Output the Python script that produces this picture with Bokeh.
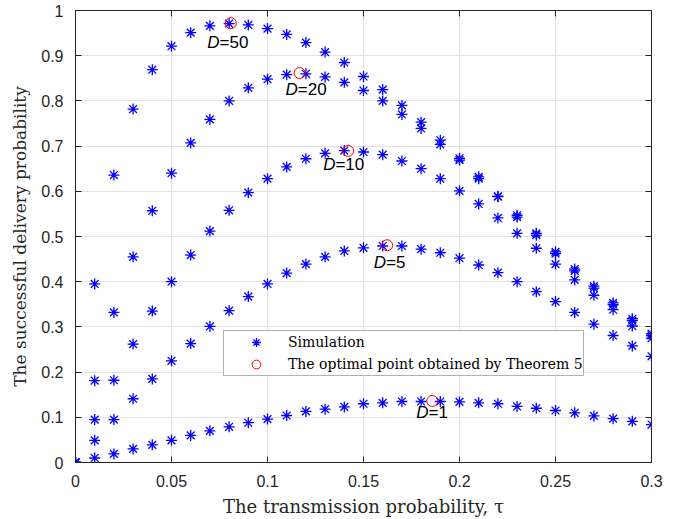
import math
from bokeh.plotting import figure
from bokeh.models import (ColumnDataSource, LinearAxis, Legend, LegendItem,
                          FixedTicker, Range1d)
from bokeh.core.properties import value
from bokeh.embed import file_html
from bokeh.resources import INLINE

# ---------------- data ----------------
tau = [0.00, 0.01, 0.02, 0.03, 0.04, 0.05, 0.06, 0.07, 0.08, 0.09, 0.10,
       0.11, 0.12, 0.13, 0.14, 0.15, 0.16, 0.17, 0.18, 0.19, 0.20,
       0.21, 0.22, 0.23, 0.24, 0.25, 0.26, 0.27, 0.28, 0.29, 0.30]

sim_D1 = [0.0, 0.010, 0.019, 0.030, 0.039, 0.049, 0.060, 0.070, 0.079, 0.088, 0.096,
          0.104, 0.113, 0.118, 0.123, 0.130, 0.132, 0.135, 0.135, 0.135, 0.134,
          0.132, 0.130, 0.124, 0.120, 0.115, 0.110, 0.103, 0.097, 0.091, 0.084]
sim_D5 = [0.0, 0.049, 0.095, 0.141, 0.185, 0.225, 0.263, 0.301, 0.336, 0.367, 0.395,
          0.419, 0.439, 0.455, 0.468, 0.475, 0.479, 0.479, 0.472, 0.464, 0.452,
          0.437, 0.420, 0.400, 0.378, 0.356, 0.332, 0.306, 0.281, 0.258, 0.235]
sim_D10 = [0.0, 0.095, 0.182, 0.262, 0.335, 0.400, 0.459, 0.512, 0.558, 0.597, 0.628,
           0.654, 0.672, 0.684, 0.690, 0.687, 0.681, 0.667, 0.650, 0.628, 0.601,
           0.572, 0.541, 0.507, 0.474, 0.439, 0.404, 0.370, 0.338, 0.302, 0.275]
sim_D20 = [0.0, 0.181, 0.332, 0.455, 0.557, 0.640, 0.707, 0.759, 0.800, 0.829, 0.848,
           0.858, 0.860, 0.853, 0.841, 0.823, 0.800, 0.770, 0.739, 0.704, 0.669,
           0.628, 0.588, 0.543, 0.503, 0.462, 0.424, 0.386, 0.349, 0.314, 0.281]
sim_D50 = [0.0, 0.395, 0.636, 0.782, 0.869, 0.921, 0.951, 0.966, 0.971, 0.968, 0.960,
           0.947, 0.929, 0.908, 0.885, 0.854, 0.825, 0.790, 0.753, 0.713, 0.673,
           0.632, 0.589, 0.547, 0.507, 0.466, 0.428, 0.390, 0.353, 0.318, 0.285]

opt_tau = [0.1858, 0.1623, 0.1420, 0.1167, 0.0809]
opt_prob = [0.1362, 0.4806, 0.6894, 0.8616, 0.9720]
opt_D = ["1", "5", "10", "20", "50"]

x_ticks = [0, 0.05, 0.1, 0.15, 0.2, 0.25, 0.3]
x_tick_labels = ["0", "0.05", "0.1", "0.15", "0.2", "0.25", "0.3"]
y_ticks = [0, 0.1, 0.2, 0.3, 0.4, 0.5, 0.6, 0.7, 0.8, 0.9, 1]
y_tick_labels = ["0", "0.1", "0.2", "0.3", "0.4", "0.5", "0.6", "0.7", "0.8", "0.9", "1"]

# ---------------- styles ----------------
AX = "#262626"
BLUE = "#0000ff"
RED = "#ff0000"
SERIF = "DejaVu Serif"
SANS = "Liberation Sans"

p = figure(width=682, height=519, x_range=Range1d(0, 0.3), y_range=Range1d(0, 1),
           output_backend="svg", toolbar_location=None,
           min_border_left=75, min_border_right=31, min_border_top=10, min_border_bottom=56)
p.background_fill_color = "white"
p.border_fill_color = "white"
p.outline_line_color = AX
p.outline_line_width = 1

bottom_ax = p.xaxis[0]
left_ax = p.yaxis[0]

def style_axis(ax, ticks, labels, show_labels=True):
    ax.ticker = FixedTicker(ticks=ticks)
    ax.major_label_overrides = {t: (l if show_labels else "") for t, l in zip(ticks, labels)}
    ax.major_tick_in = 6
    ax.major_tick_out = 0
    ax.minor_tick_line_color = None
    ax.axis_line_color = AX
    ax.major_tick_line_color = AX
    ax.major_label_text_font = SANS
    ax.major_label_text_color = AX
    if show_labels:
        ax.major_label_text_font_size = "16px"
        ax.major_label_standoff = 12
    else:
        ax.major_label_text_font_size = "0px"
        ax.major_label_standoff = 0

style_axis(bottom_ax, x_ticks, x_tick_labels)
style_axis(left_ax, y_ticks, y_tick_labels)

top = LinearAxis()
style_axis(top, x_ticks, x_tick_labels, show_labels=False)
p.add_layout(top, "above")
right = LinearAxis()
style_axis(right, y_ticks, y_tick_labels, show_labels=False)
p.add_layout(right, "right")

bottom_ax.axis_label = "The transmission probability, \u03c4"
left_ax.axis_label = "The successful delivery probability"
for ax, st, fs in ((bottom_ax, 6, "18px"), (left_ax, 8, "17px")):
    ax.axis_label_text_font = SERIF
    ax.axis_label_text_font_size = fs
    ax.axis_label_text_font_style = "normal"
    ax.axis_label_text_color = AX
    ax.axis_label_standoff = st

p.xgrid.ticker = FixedTicker(ticks=x_ticks)
p.ygrid.ticker = FixedTicker(ticks=y_ticks)
p.xgrid.grid_line_color = "#e2e2e2"
p.ygrid.grid_line_color = "#e2e2e2"

# simulation points
sim_renderers = []
for series in [sim_D1, sim_D5, sim_D10, sim_D20, sim_D50]:
    r = p.scatter(tau, series, marker="asterisk", size=11,
                  line_color=BLUE, line_width=1.3)
    sim_renderers.append(r)

# optimal points
r_opt = p.scatter(opt_tau, opt_prob, marker="circle", size=11,
                  fill_color=None, line_color=RED, line_width=1)

# D labels (italic D + "=n"), offsets in screen pixels from the optimal point
lab_src = ColumnDataSource(dict(
    x=opt_tau, y=opt_prob, num=["=" + d for d in opt_D],
    dx=[-3.7, -1.1, -12.7, -1.7, -11.3],
    dy=[12.0, 17.4, 13.3, 16.3, 19.0],
))
p.text(x="x", y="y", text=value("D"), x_offset="dx", y_offset="dy", source=lab_src,
       text_font=value(SANS), text_font_style="italic", text_font_size="17px",
       text_align="right", text_baseline="middle", text_color="black")
p.text(x="x", y="y", text="num", x_offset="dx", y_offset="dy", source=lab_src,
       text_font=value(SANS), text_font_size="17px",
       text_align="left", text_baseline="middle", text_color="black")

legend = Legend(items=[LegendItem(label="Simulation", renderers=[sim_renderers[0]]),
                       LegendItem(label="The optimal point obtained by Theorem 5",
                                  renderers=[r_opt])],
                location=(148, 86), padding=0, margin=0, spacing=0,
                glyph_width=64, glyph_height=22, label_height=22, label_standoff=0,
                border_line_color="#666666", border_line_width=1,
                label_text_font=SERIF, label_text_font_size="14px",
                label_text_color="black", background_fill_alpha=1.0)
p.add_layout(legend)

open("out.html", "w").write(file_html(p, INLINE))
